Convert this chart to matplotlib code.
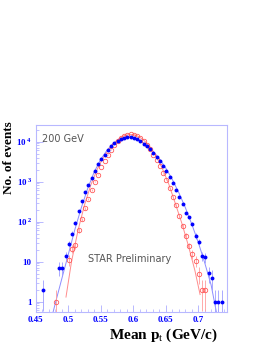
import numpy as np
import matplotlib
matplotlib.use("Agg")
import matplotlib.pyplot as plt
from matplotlib.ticker import FixedLocator, FuncFormatter, LogLocator, NullFormatter, MultipleLocator

plt.rcParams['mathtext.fontset'] = 'custom'
plt.rcParams['mathtext.rm'] = 'Liberation Serif'
plt.rcParams['mathtext.bf'] = 'Liberation Serif:bold'

# datos (centros de bin en GeV/c, cuentas)
x_azul = [0.461, 0.486, 0.491, 0.496, 0.501, 0.506, 0.511, 0.516, 0.521, 0.526,
          0.531, 0.536, 0.541, 0.546, 0.551, 0.556, 0.561, 0.566, 0.571, 0.576,
          0.581, 0.586, 0.591, 0.596, 0.601, 0.606, 0.611, 0.616, 0.621, 0.626,
          0.631, 0.636, 0.641, 0.646, 0.651, 0.656, 0.661, 0.666, 0.671, 0.676,
          0.681, 0.686, 0.691, 0.696, 0.701, 0.706, 0.711, 0.716, 0.721, 0.726,
          0.731, 0.736]
y_azul = [2, 7, 7, 14, 28, 50, 92, 185, 330, 540,
          800, 1200, 1800, 2700, 3600, 4700, 6000, 7600, 9200, 10600,
          11700, 12500, 12900, 12900, 12400, 11300, 10200, 8900, 7700, 6400,
          5300, 4200, 3250, 2500, 1850, 1300, 900, 600, 410, 280,
          165, 128, 87, 44, 31, 14, 13, 5.2, 4, 1,
          1, 1]

x_rojo = [0.481, 0.501, 0.506, 0.511, 0.516, 0.521, 0.526, 0.531, 0.536, 0.541,
          0.546, 0.551, 0.556, 0.561, 0.566, 0.571, 0.576, 0.581, 0.586, 0.591,
          0.596, 0.601, 0.606, 0.611, 0.616, 0.621, 0.626, 0.631, 0.636, 0.641,
          0.646, 0.651, 0.656, 0.661, 0.666, 0.671, 0.676, 0.681, 0.686, 0.691,
          0.696, 0.701, 0.706, 0.711]
y_rojo = [1, 11, 21, 26, 60, 115, 215, 360, 620, 1000,
          1500, 2300, 3300, 4700, 6300, 8300, 10400, 12300, 13800, 14800,
          15300, 15000, 14000, 12400, 10400, 8300, 6400, 4650, 3500, 2450,
          1620, 1100, 680, 420, 260, 135, 78, 44, 25, 15.5,
          10.5, 5, 2, 2]

# curvas de ajuste
x_ajuste_azul = [0.476, 0.48, 0.49, 0.50, 0.51, 0.52, 0.53, 0.54, 0.55, 0.56,
                 0.57, 0.58, 0.59, 0.60, 0.61, 0.62, 0.63, 0.64, 0.65, 0.66,
                 0.67, 0.68, 0.69, 0.70, 0.71, 0.72, 0.728]
y_ajuste_azul = [0.5, 0.9, 3.7, 15, 62, 220, 680, 1750, 3600, 6200,
                 9200, 11600, 12800, 12600, 10800, 8300, 5900, 3800, 2200, 1150,
                 540, 230, 88, 31, 9.5, 2.6, 0.56]

x_ajuste_rojo = [0.4965, 0.505, 0.515, 0.525, 0.535, 0.545, 0.555, 0.565, 0.575, 0.585,
                 0.595, 0.605, 0.615, 0.625, 0.635, 0.645, 0.655, 0.665, 0.675, 0.685,
                 0.695, 0.703]
y_ajuste_rojo = [1.3, 10, 60, 260, 850, 2100, 4300, 7400, 10900, 13900,
                 15200, 14300, 11400, 7700, 4400, 2100, 850, 280, 90, 25,
                 6, 1.5]

marco = '#b8b8ff'
azul = '#0000ff'
rojo = '#ff5a5a'

fig = plt.figure(figsize=(2.72, 3.52), dpi=100)
ax = fig.add_axes([0.1316, 0.1145, 0.7019, 0.5304])

ax.plot(x_ajuste_azul, y_ajuste_azul, color='#8c8cff', lw=0.7, zorder=2)
ax.plot(x_ajuste_rojo, y_ajuste_rojo, color='#ff8c8c', lw=0.7, zorder=2)

ax.errorbar(x_rojo, y_rojo, yerr=np.sqrt(y_rojo), fmt='o', ms=3.2, mfc='none',
            mec=rojo, mew=0.6, ecolor='#ff9c9c', elinewidth=0.6, capsize=0, zorder=3)
ax.errorbar(x_azul, y_azul, yerr=np.sqrt(y_azul), fmt='o', ms=2.8, mfc=azul,
            mec=azul, mew=0, ecolor='#9c9cff', elinewidth=0.6, capsize=0, zorder=4)

ax.set_yscale('log')
ax.set_xlim(0.45, 0.744)
ax.set_ylim(0.56, 2.6e4)

ax.xaxis.set_major_locator(MultipleLocator(0.05))
ax.xaxis.set_minor_locator(MultipleLocator(0.01))
ax.xaxis.set_major_formatter(FuncFormatter(lambda v, p: f"{v:g}"))
ax.yaxis.set_major_locator(FixedLocator([1, 10, 100, 1000, 10000]))
ax.yaxis.set_minor_locator(LogLocator(base=10, subs=np.arange(2, 10)))
ax.yaxis.set_minor_formatter(NullFormatter())


def etiqueta_y(v, p):
    e = int(round(np.log10(v)))
    if e == 0:
        return '1'
    if e == 1:
        return '10'
    return '10$^{\\,\\mathbf{%d}}$' % e


ax.yaxis.set_major_formatter(FuncFormatter(etiqueta_y))

for s in ax.spines.values():
    s.set_color(marco)
    s.set_linewidth(0.8)
ax.tick_params(which='both', direction='in', color=marco, top=False, right=False)
ax.tick_params(which='major', length=5, width=0.7)
ax.tick_params(which='minor', length=2.5, width=0.6)
ax.tick_params(axis='y', which='major', pad=3)
ax.tick_params(axis='x', which='major', pad=3.2)
for lab in ax.get_xticklabels() + ax.get_yticklabels():
    lab.set_fontfamily('Liberation Serif')
    lab.set_fontweight('bold')
    lab.set_fontsize(6.5)
    lab.set_color(azul)

ax.set_xlabel('Mean p$_{\\mathrm{t}}$ (GeV/c)', fontfamily='Liberation Serif',
              fontweight='bold', fontsize=11, ha='right')
ax.xaxis.set_label_coords(0.954, -0.078)
ax.set_ylabel('No. of events', fontfamily='Liberation Serif',
              fontweight='bold', fontsize=9.5, ha='right')
ax.yaxis.set_label_coords(-0.108, 1.021)

ax.text(0.032, 0.925, '200 GeV', transform=ax.transAxes, fontsize=7,
        color='#555555', va='center', ha='left')
ax.text(0.273, 0.282, 'STAR Preliminary', transform=ax.transAxes, fontsize=7,
        color='#555555', va='center', ha='left')

fig.savefig('out.png', dpi=100)
